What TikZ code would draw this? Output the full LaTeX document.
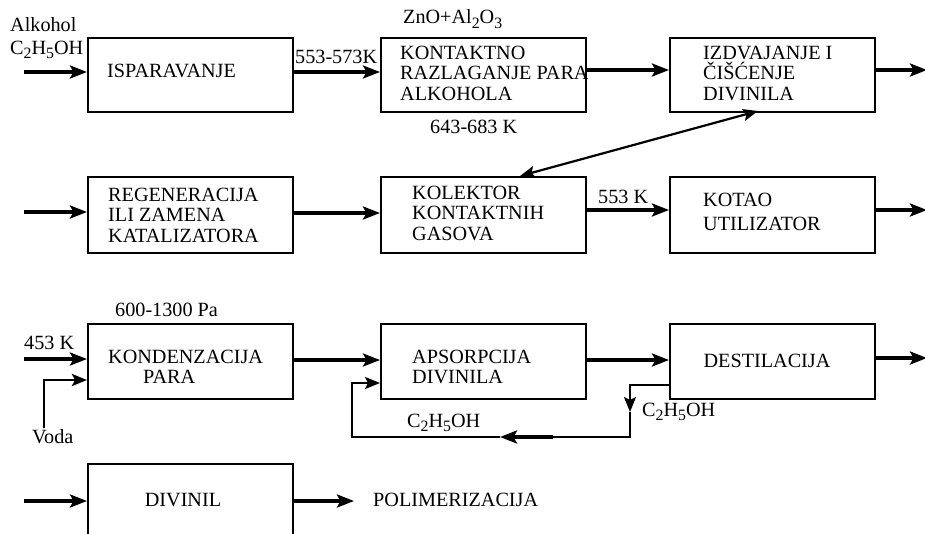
\documentclass[tikz,border=0pt]{standalone}
\usepackage{fontspec}
\setmainfont{Liberation Serif}
\usetikzlibrary{arrows.meta}
\newcommand\chemsub[1]{\raisebox{-0.45ex}{\fontsize{15.8}{15.8}\selectfont #1}}
\begin{document}
\begin{tikzpicture}[x=1pt,y=-1pt,
  every node/.style={font=\fontsize{20.2}{20.5}\selectfont, inner sep=0pt},
  procbox/.style={draw, line width=2.2pt, minimum width=205pt, minimum height=74pt, anchor=north west},
  lbl/.style={anchor=west, align=left},
  flow/.style={line width=3.2pt, -{Stealth[length=17pt,width=13pt,inset=3.5pt]}},
  thinflow/.style={line width=2.2pt, -{Stealth[length=15pt,width=12pt,inset=3pt]}},
  thinline/.style={line width=2.2pt}]
\clip (0,0) rectangle (925,533);
\useasboundingbox (0,0) rectangle (925,533);

% process boxes
\node[procbox] (isp) at (87,37) {};
\node[procbox] (kon) at (380,37) {};
\node[procbox] (izd) at (669,37) {};
\node[procbox, minimum height=76pt] (reg) at (87,176) {};
\node[procbox, minimum height=76pt] (kol) at (380,176) {};
\node[procbox, minimum height=76pt] (kot) at (669,176) {};
\node[procbox, minimum height=75pt] (kond) at (87,323) {};
\node[procbox, minimum height=75pt] (aps) at (380,323) {};
\node[procbox, minimum height=75pt] (des) at (669,323) {};
\node[procbox, minimum height=90pt] (div) at (87,463) {};

% box texts
\node[lbl] (tisp) at (107,71) {ISPARAVANJE};
\node[lbl] (tkon) at (400,73) {KONTAKTNO\\RAZLAGANJE PARA\\ALKOHOLA};
\node[lbl] (tizd) at (703,73) {IZDVAJANJE I\\ČIŠĆENJE\\DIVINILA};
\node[lbl] (treg) at (108,215) {REGENERACIJA\\ILI ZAMENA\\KATALIZATORA};
\node[lbl] (tkol) at (412,213) {KOLEKTOR\\KONTAKTNIH\\GASOVA};
\node[lbl, font=\fontsize{20.2}{24}\selectfont] (tkot) at (703,212) {KOTAO\\UTILIZATOR};
\node[lbl] (tkond) at (108,367) {KONDENZACIJA\\\hspace*{35pt}PARA};
\node[lbl] (taps) at (412,367) {APSORPCIJA\\DIVINILA};
\node (tdes) at (767,361) {DESTILACIJA};
\node (tdiv) at (183,500) {DIVINIL};
\node[lbl] (tpol) at (373,500) {POLIMERIZACIJA};

% free labels
\node[lbl] (alk) at (10,25) {Alkohol};
\node[lbl] (etin) at (10,50) {C\chemsub{2}H\chemsub{5}OH};
\node[lbl] (t553) at (295,57) {553-573K};
\node[lbl] (zno) at (403,19) {ZnO+Al\chemsub{2}O\chemsub{3}};
\node[lbl] (t643) at (430,127) {643-683 K};
\node[lbl] (t553b) at (598,197) {553 K};
\node[lbl] (t600) at (115,310) {600-1300 Pa};
\node[lbl] (t453) at (24,343) {453 K};
\node[lbl] (voda) at (32,437) {Voda};
\node[lbl] (etd) at (642,412) {C\chemsub{2}H\chemsub{5}OH};
\node[lbl] (eta) at (407,423) {C\chemsub{2}H\chemsub{5}OH};

% helper points
\coordinate (in1) at (24,72);
\coordinate (out1) at (927,70);
\coordinate (in2) at (24,212);
\coordinate (out2) at (927,210);
\coordinate (in3) at (24,359);
\coordinate (vodaTop) at (44,380);
\coordinate (vodaBot) at (44,428);
\coordinate (out3) at (927,358);
\coordinate (in4) at (24,501);
\coordinate (polEnd) at (354,501);
\coordinate (desL) at (669,385);
\coordinate (dn1) at (630,385);
\coordinate (dn2) at (630,412);
\coordinate (dn3) at (630,437);
\coordinate (bk1) at (553,437);
\coordinate (bk2) at (500,437);
\coordinate (bk3) at (352,437);
\coordinate (bk4) at (352,383);
\coordinate (apsL) at (380,383);
\coordinate (diagA) at (758,111);
\coordinate (diagB) at (520,176);

% main flow
\draw[flow] (in1) -- (isp.west |- in1);
\draw[flow] (isp.east |- 0,72) -- (kon.west |- 0,72);
\draw[flow] (kon.east |- 0,70) -- (izd.west |- 0,70);
\draw[flow] (izd.east |- out1) -- (out1);
\draw[flow] (in2) -- (reg.west |- in2);
\draw[flow] (reg.east |- 0,213) -- (kol.west |- 0,213);
\draw[flow] (kol.east |- 0,210) -- (kot.west |- 0,210);
\draw[flow] (kot.east |- out2) -- (out2);
\draw[flow] (in3) -- (kond.west |- in3);
\draw[thinflow, line width=2.8pt] (vodaBot) -- (vodaTop) -- (kond.west |- vodaTop);
\draw[flow] (kond.east |- 0,360) -- (aps.west |- 0,360);
\draw[flow] (aps.east |- 0,360) -- (des.west |- 0,360);
\draw[flow] (des.east |- out3) -- (out3);
\draw[flow] (in4) -- (div.west |- in4);
\draw[flow] (div.east |- polEnd) -- (polEnd);

% ethanol recycle loop
\draw[thinflow] (desL) -- (dn1) -- (dn2);
\draw[thinline] (dn2) -- (dn3) -- (bk1);
\draw[flow] (bk1) -- (bk2);
\draw[thinflow] (bk2) -- (bk3) -- (bk4) -- (apsL);

% gas exchange between separation and collector
\draw[line width=2.2pt, {Stealth[length=15pt,width=12pt,inset=3pt]}-{Stealth[length=15pt,width=12pt,inset=3pt]}] (diagB) -- (diagA);
\end{tikzpicture}
\end{document}
